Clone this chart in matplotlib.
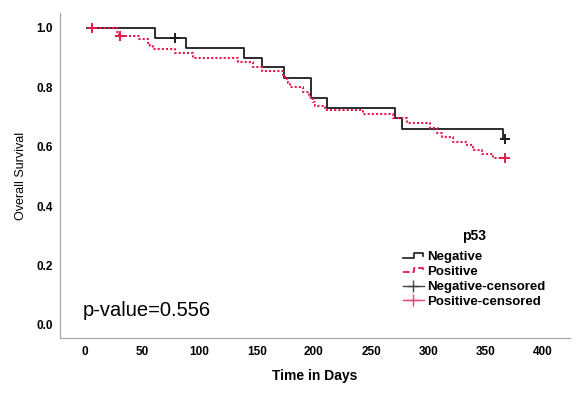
import matplotlib
matplotlib.use("Agg")
import matplotlib.pyplot as plt
from matplotlib.lines import Line2D
from matplotlib.legend_handler import HandlerBase

plt.rcParams["font.family"] = ["Liberation Sans", "DejaVu Sans"]

# Kaplan-Meier steps (days, survival after step)
neg_times = [2, 61, 88, 139, 155, 174, 197, 211, 271, 277, 365]
neg_surv = [1.0, 0.966, 0.933, 0.900, 0.869, 0.832, 0.764, 0.731, 0.697, 0.660, 0.626]
neg_end = 367
neg_cens_t = [79, 367]
neg_cens_s = [0.966, 0.626]

pos_times = [2, 28, 30, 47, 55, 57, 59, 79, 94, 134, 147, 155, 173, 175, 177, 179,
             190, 196, 199, 201, 210, 243, 269, 281, 301, 307, 312, 321, 334, 339, 347, 356]
pos_surv = [1.0, 0.987, 0.973, 0.963, 0.950, 0.940, 0.929, 0.916, 0.899, 0.886, 0.869,
            0.855, 0.842, 0.828, 0.815, 0.800, 0.784, 0.768, 0.751, 0.737, 0.724, 0.710,
            0.697, 0.680, 0.663, 0.646, 0.633, 0.616, 0.606, 0.589, 0.576, 0.562]
pos_end = 367
pos_cens_t = [6, 31, 367]
pos_cens_s = [1.0, 0.973, 0.562]

x_ticks = [0, 50, 100, 150, 200, 250, 300, 350, 400]
y_ticks = [0.0, 0.2, 0.4, 0.6, 0.8, 1.0]
legend_labels = ["Negative", "Positive", "Negative-censored", "Positive-censored"]
p_text = "p-value=0.556"

BLACK = "#1c1c1c"
RED = "#e8194b"
DOTS = (0, (1, 1))


class StepHandler(HandlerBase):
    # SPSS-like step glyph for the legend
    def create_artists(self, legend, orig_handle, xdescent, ydescent, width, height, fontsize, trans):
        x0, y0 = -xdescent, -ydescent
        xs = [x0, x0 + 0.55 * width, x0 + 0.55 * width, x0 + 0.95 * width, x0 + 0.95 * width]
        ys = [y0 + 0.3 * height, y0 + 0.3 * height, y0 + 0.75 * height, y0 + 0.75 * height, y0 + 0.45 * height]
        line = Line2D(xs, ys, color=orig_handle.get_color(), linestyle=orig_handle.get_linestyle(),
                      linewidth=orig_handle.get_linewidth())
        line.set_transform(trans)
        return [line]


fig = plt.figure(figsize=(5.78, 3.94), dpi=100)
ax = fig.add_axes([0.1038, 0.1421, 0.8824, 0.8249])

ax.step(neg_times + [neg_end], neg_surv + [neg_surv[-1]], where="post", color=BLACK, lw=1.3)
ax.step(pos_times + [pos_end], pos_surv + [pos_surv[-1]], where="post", color=RED, lw=1.5,
        linestyle=DOTS, dash_capstyle="butt")
ax.plot(neg_cens_t, neg_cens_s, "+", color=BLACK, ms=7.5, mew=1.4)
ax.plot(pos_cens_t, pos_cens_s, "+", color=RED, ms=7.5, mew=1.4)

ax.set_xlim(-21.8, 423.6)
ax.set_ylim(-0.044, 1.05)
ax.set_xticks(x_ticks)
ax.set_xticklabels([str(t) for t in x_ticks], fontsize=8.5, fontweight="bold")
ax.set_yticks(y_ticks)
ax.set_yticklabels([f"{t:.1f}" for t in y_ticks], fontsize=8.5, fontweight="bold")
ax.tick_params(axis="both", length=0)
ax.tick_params(axis="x", pad=6)
ax.tick_params(axis="y", pad=5)

for side in ["top", "right"]:
    ax.spines[side].set_visible(False)
for side in ["left", "bottom"]:
    ax.spines[side].set_color("#a8a8a8")
    ax.spines[side].set_linewidth(0.9)

ax.set_xlabel("Time in Days", fontsize=10, fontweight="bold", labelpad=8)
ax.set_ylabel("Overall Survival", fontsize=9, labelpad=7)

ax.text(0.045, 0.085, p_text, transform=ax.transAxes, fontsize=14.5, va="center", ha="left")

h_neg = Line2D([], [], color=BLACK, lw=1.2)
h_pos = Line2D([], [], color=RED, lw=1.3, linestyle=DOTS)
h_neg_c = Line2D([], [], color="#444444", lw=1.0, marker="+", ms=9, mew=1.0)
h_pos_c = Line2D([], [], color="#e8456f", lw=1.0, marker="+", ms=9, mew=1.0)

leg = fig.legend([h_neg, h_pos, h_neg_c, h_pos_c], legend_labels,
                 loc="upper left", bbox_to_anchor=(0.685, 0.436), frameon=False,
                 prop={"weight": "bold", "size": 9.5}, title="p53",
                 title_fontproperties={"weight": "bold", "size": 10},
                 handlelength=1.6, handletextpad=0.3, labelspacing=0.2,
                 borderpad=0, numpoints=1,
                 handler_map={h_neg: StepHandler(), h_pos: StepHandler()})
# more room between the title and the entries
leg._legend_box.sep = 6

fig.savefig("out.png", dpi=100)
